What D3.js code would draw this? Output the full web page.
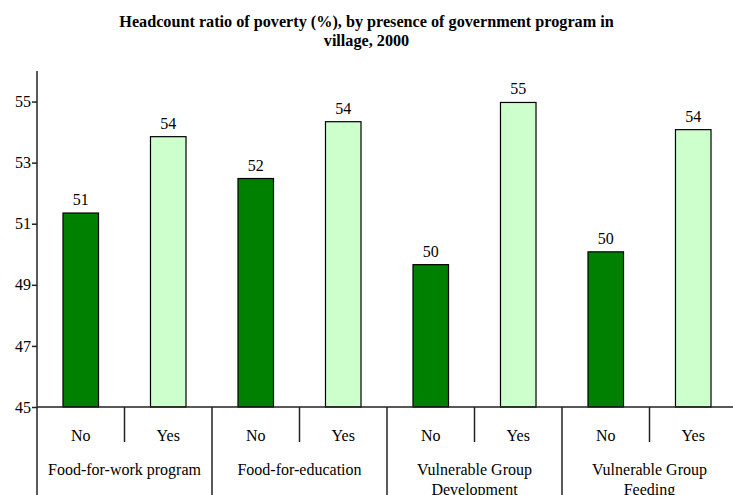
<!DOCTYPE html>
<html>
<head>
<meta charset="utf-8">
<script src="https://cdn.jsdelivr.net/npm/d3@7"></script>
<style>
  body { margin: 0; background: #fff; }
  svg text { font-family: 'Liberation Serif', 'Times New Roman', serif !important; }
</style>
</head>
<body>
<div id="chart-area"></div>
<script>
var programs = ['Food-for-work program', 'Food-for-education', 'Vulnerable Group Development', 'Vulnerable Group Feeding'];
var programLines = [['Food-for-work program'], ['Food-for-education'], ['Vulnerable Group', 'Development'], ['Vulnerable Group', 'Feeding']];
var presence = ['No', 'Yes'];
var noValues = [51.35, 52.48, 49.66, 50.08];
var yesValues = [53.85, 54.34, 54.97, 54.08];
var yTicks = [45, 47, 49, 51, 53, 55];

var W = 733, H = 495;
var margin = { top: 71, left: 37, bottom: 407, right: 737 };
var serifFont = 'Liberation Serif';

var svg = d3.select('#chart-area').append('svg')
    .attr('width', W)
    .attr('height', H)
    .style('font-family', serifFont);

var data = [];
programs.forEach((p, i) => {
	data.push({ program: p, presence: 'No', value: noValues[i] });
	data.push({ program: p, presence: 'Yes', value: yesValues[i] });
});

var x0 = d3.scaleBand().domain(programs).range([margin.left, margin.right]);
var x1 = d3.scaleBand().domain(presence).range([0, x0.bandwidth()])
	.paddingInner(0.594).paddingOuter(0.297);
var y = d3.scaleLinear().domain([45, 56]).range([margin.bottom, margin.top]);
var color = d3.scaleOrdinal().domain(presence).range(['#008000', '#ccffcc']);

// title
svg.append('text')
	.attr('x', W / 2).attr('y', 27)
	.attr('text-anchor', 'middle')
	.attr('font-size', '16.2px').attr('font-weight', 'bold')
	.text('Headcount ratio of poverty (%), by presence of government program in');
svg.append('text')
	.attr('x', W / 2).attr('y', 46)
	.attr('text-anchor', 'middle')
	.attr('font-size', '16.2px').attr('font-weight', 'bold')
	.text('village, 2000');

// bars
svg.selectAll('rect.bar').data(data).enter()
	.append('rect')
	.attr('class', 'bar')
	.attr('x', d => x0(d.program) + x1(d.presence))
	.attr('y', d => y(d.value))
	.attr('width', x1.bandwidth())
	.attr('height', d => y(45) - y(d.value))
	.attr('fill', d => color(d.presence))
	.attr('stroke', '#000')
	.attr('stroke-width', 1.2);

svg.selectAll('text.val').data(data).enter()
	.append('text')
	.attr('class', 'val')
	.attr('x', d => x0(d.program) + x1(d.presence) + x1.bandwidth() / 2)
	.attr('y', d => y(d.value) - 8)
	.attr('text-anchor', 'middle')
	.attr('font-size', '16px')
	.text(d => d3.format('.0f')(d.value));

// y axis
var yAxis = svg.append('g')
	.attr('transform', `translate(${margin.left},0)`)
	.call(d3.axisLeft(y).tickValues(yTicks).tickSize(5).tickSizeOuter(0).tickFormat(d3.format('d')));
yAxis.attr('font-family', null).attr('font-size', '16px');
yAxis.select('.domain').remove();
yAxis.selectAll('line').attr('stroke', '#222').attr('stroke-width', 1.5);
yAxis.selectAll('text').attr('fill', '#000').attr('x', -6);

svg.append('line')
	.attr('x1', margin.left).attr('x2', margin.left)
	.attr('y1', margin.top).attr('y2', H)
	.attr('stroke', '#222').attr('stroke-width', 1.5);

// x axis baseline
svg.append('line')
	.attr('x1', margin.left).attr('x2', margin.right)
	.attr('y1', y(45)).attr('y2', y(45))
	.attr('stroke', '#222').attr('stroke-width', 1.5);

// sub-category separators
svg.selectAll('line.sub').data(programs).enter()
	.append('line')
	.attr('x1', d => x0(d) + x0.bandwidth() / 2)
	.attr('x2', d => x0(d) + x0.bandwidth() / 2)
	.attr('y1', y(45)).attr('y2', y(45) + 35)
	.attr('stroke', '#222').attr('stroke-width', 1.5);

// group separators
svg.selectAll('line.grp').data(programs.slice(1)).enter()
	.append('line')
	.attr('x1', d => x0(d)).attr('x2', d => x0(d))
	.attr('y1', y(45)).attr('y2', H)
	.attr('stroke', '#222').attr('stroke-width', 1.5);

// No / Yes labels
svg.selectAll('text.pres').data(data).enter()
	.append('text')
	.attr('class', 'pres')
	.attr('x', d => x0(d.program) + x1(d.presence) + x1.bandwidth() / 2)
	.attr('y', y(45) + 34)
	.attr('text-anchor', 'middle')
	.attr('font-size', '16px')
	.text(d => d.presence);

// program labels
programs.forEach((p, i) => {
	var t = svg.append('text')
		.attr('x', x0(p) + x0.bandwidth() / 2)
		.attr('y', y(45) + 68)
		.attr('text-anchor', 'middle')
		.attr('font-size', '16px');
	programLines[i].forEach((line, j) => {
		t.append('tspan')
			.attr('x', x0(p) + x0.bandwidth() / 2)
			.attr('dy', j === 0 ? 0 : 19.5)
			.text(line);
	});
});
</script>
</body>
</html>
